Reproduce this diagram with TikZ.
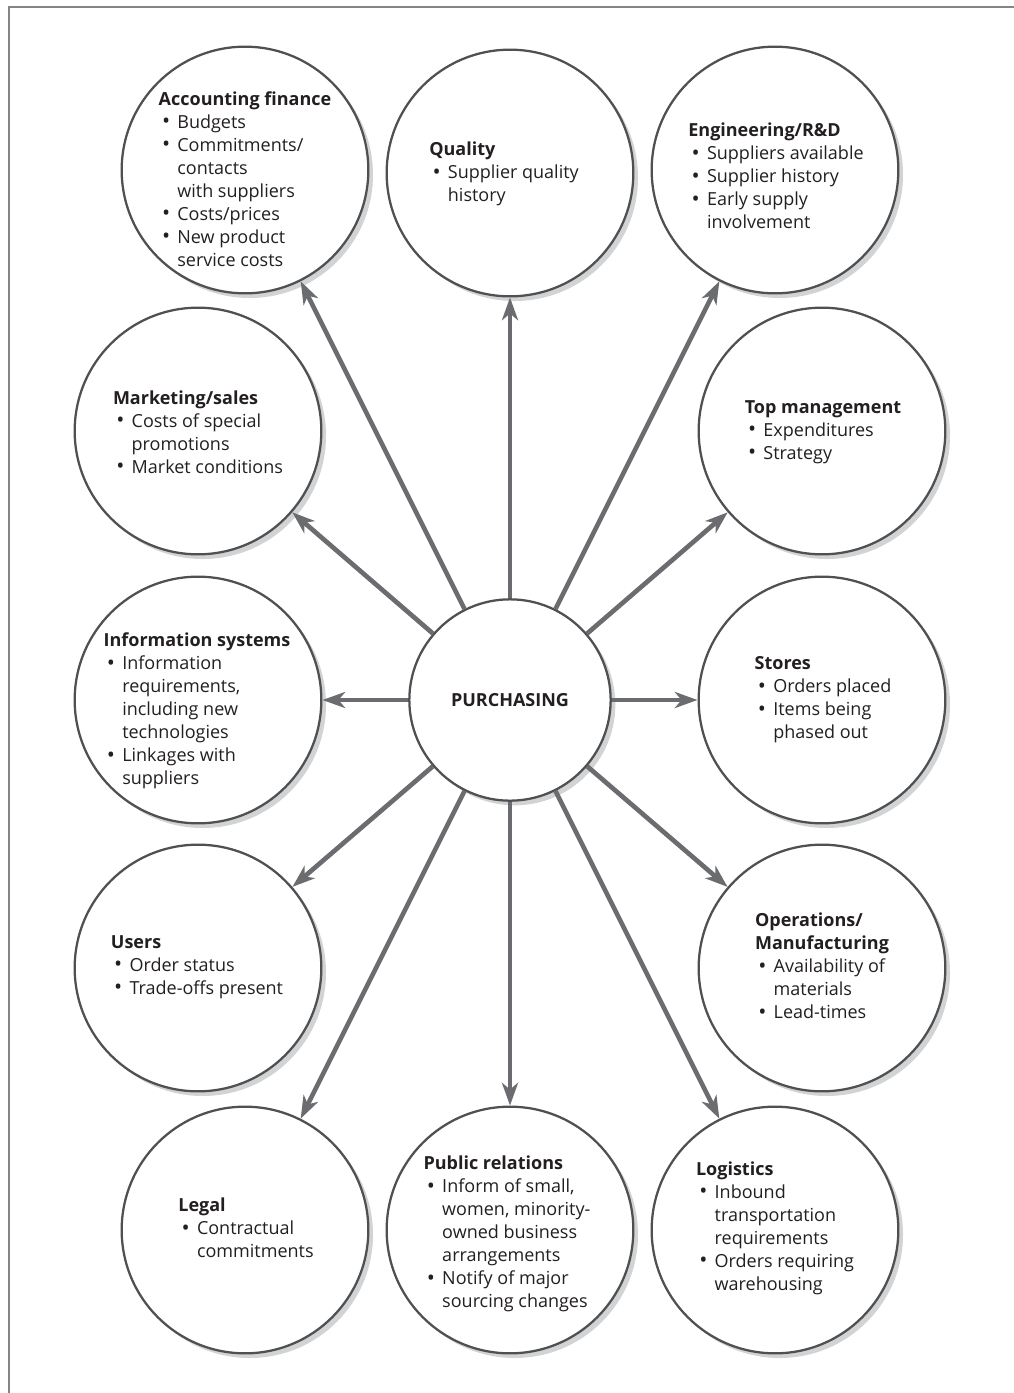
\documentclass[tikz,border=0pt]{standalone}
\usepackage{fontspec}
\setmainfont{Open Sans}
\usetikzlibrary{arrows.meta,shadows}
\definecolor{ringgray}{HTML}{4F5052}
\definecolor{arrowgray}{HTML}{6B6C6F}
\definecolor{shadegray}{HTML}{D2D3D5}
\definecolor{framegray}{HTML}{858585}
\definecolor{inkblack}{HTML}{231F20}
\newcommand{\depttitle}[1]{\textbf{#1}}
\newcommand{\bulitem}{\makebox[14pt][l]{\hspace{2.5pt}\raisebox{-0.4pt}{\scalebox{1.2}{\textbullet}}}}
\newcommand{\bulcont}{\hspace*{14pt}}

\begin{document}
\begin{tikzpicture}[
  x=0.75pt,y=-0.75pt,
  font=\fontsize{13.5}{17.25}\selectfont,
  dept/.style={circle, draw=ringgray, line width=1.7pt, fill=white, minimum size=185pt, inner sep=0pt,
    drop shadow={shadow xshift=3.5pt, shadow yshift=-3.5pt, fill=shadegray, opacity=1}},
  hub/.style={dept, minimum size=151pt, text=inkblack, font=\fontsize{13.5}{16}\selectfont\bfseries},
  note/.style={align=left, inner sep=0pt, text=inkblack},
  flow/.style={-{Stealth[length=17pt,width=12pt,inset=5pt]}, line width=3.5pt, draw=arrowgray},
  frame/.style={draw=framegray, line width=2pt},
]
\useasboundingbox (0,0) rectangle (1014,1393);
\draw[frame] (9,1393) -- (9,7) -- (1014,7);

% departments
\node[dept] (acct) at (245,170) {};
\node[dept] (qual) at (510,173) {};
\node[dept] (eng) at (775,170) {};
\node[dept] (mkt) at (198,431) {};
\node[dept] (topm) at (822,431) {};
\node[dept] (info) at (198,700) {};
\node[dept] (stores) at (822,700) {};
\node[dept] (users) at (198,968) {};
\node[dept] (ops) at (822,968) {};
\node[dept] (legal) at (245,1230) {};
\node[dept] (pr) at (510,1230) {};
\node[dept] (logi) at (775,1230) {};
\node[hub] (purch) at (510,700) {PURCHASING};

\node[note] (acct-t) at (245,179)
  {\depttitle{Accounting finance}\\ \bulitem Budgets\\ \bulitem Commitments/\\ \bulcont contacts\\
   \bulcont with suppliers\\ \bulitem Costs/prices\\ \bulitem New product\\ \bulcont service costs};
\node[note] (qual-t) at (504,174)
  {\depttitle{Quality}\\ \bulitem Supplier quality\\ \bulcont history};
\node[note] (eng-t) at (776,176)
  {\depttitle{Engineering/R\&D}\\ \bulitem Suppliers available\\ \bulitem Supplier history\\
   \bulitem Early supply\\ \bulcont involvement};
\node[note] (mkt-t) at (198,432)
  {\depttitle{Marketing/sales}\\ \bulitem Costs of special\\ \bulcont promotions\\ \bulitem Market conditions};
\node[note] (topm-t) at (823,432)
  {\depttitle{Top management}\\ \bulitem Expenditures\\ \bulitem Strategy};
\node[note] (info-t) at (197,711)
  {\depttitle{Information systems}\\ \bulitem Information\\ \bulcont requirements,\\ \bulcont including new\\
   \bulcont technologies\\ \bulitem Linkages with\\ \bulcont suppliers};
\node[note] (stores-t) at (823,700)
  {\depttitle{Stores}\\ \bulitem Orders placed\\ \bulitem Items being\\ \bulcont phased out};
\node[note] (users-t) at (197,967)
  {\depttitle{Users}\\ \bulitem Order status\\ \bulitem Trade-offs present};
\node[note] (ops-t) at (822,966)
  {\depttitle{Operations/}\\ \depttitle{Manufacturing}\\ \bulitem Availability of\\ \bulcont materials\\ \bulitem Lead-times};
\node[note] (legal-t) at (246,1228)
  {\depttitle{Legal}\\ \bulitem Contractual\\ \bulcont commitments};
\node[note] (pr-t) at (507,1234)
  {\depttitle{Public relations}\\ \bulitem Inform of small,\\ \bulcont women, minority-\\ \bulcont owned business\\
   \bulcont arrangements\\ \bulitem Notify of major\\ \bulcont sourcing changes};
\node[note] (logi-t) at (775,1228)
  {\depttitle{Logistics}\\ \bulitem Inbound\\ \bulcont transportation\\ \bulcont requirements\\
   \bulitem Orders requiring\\ \bulcont warehousing};

% purchasing to every department
\foreach \d in {acct,qual,eng,mkt,topm,info,stores,users,ops,legal,pr,logi}
  {\draw[flow] (purch) -- (\d);}
\end{tikzpicture}
\end{document}
